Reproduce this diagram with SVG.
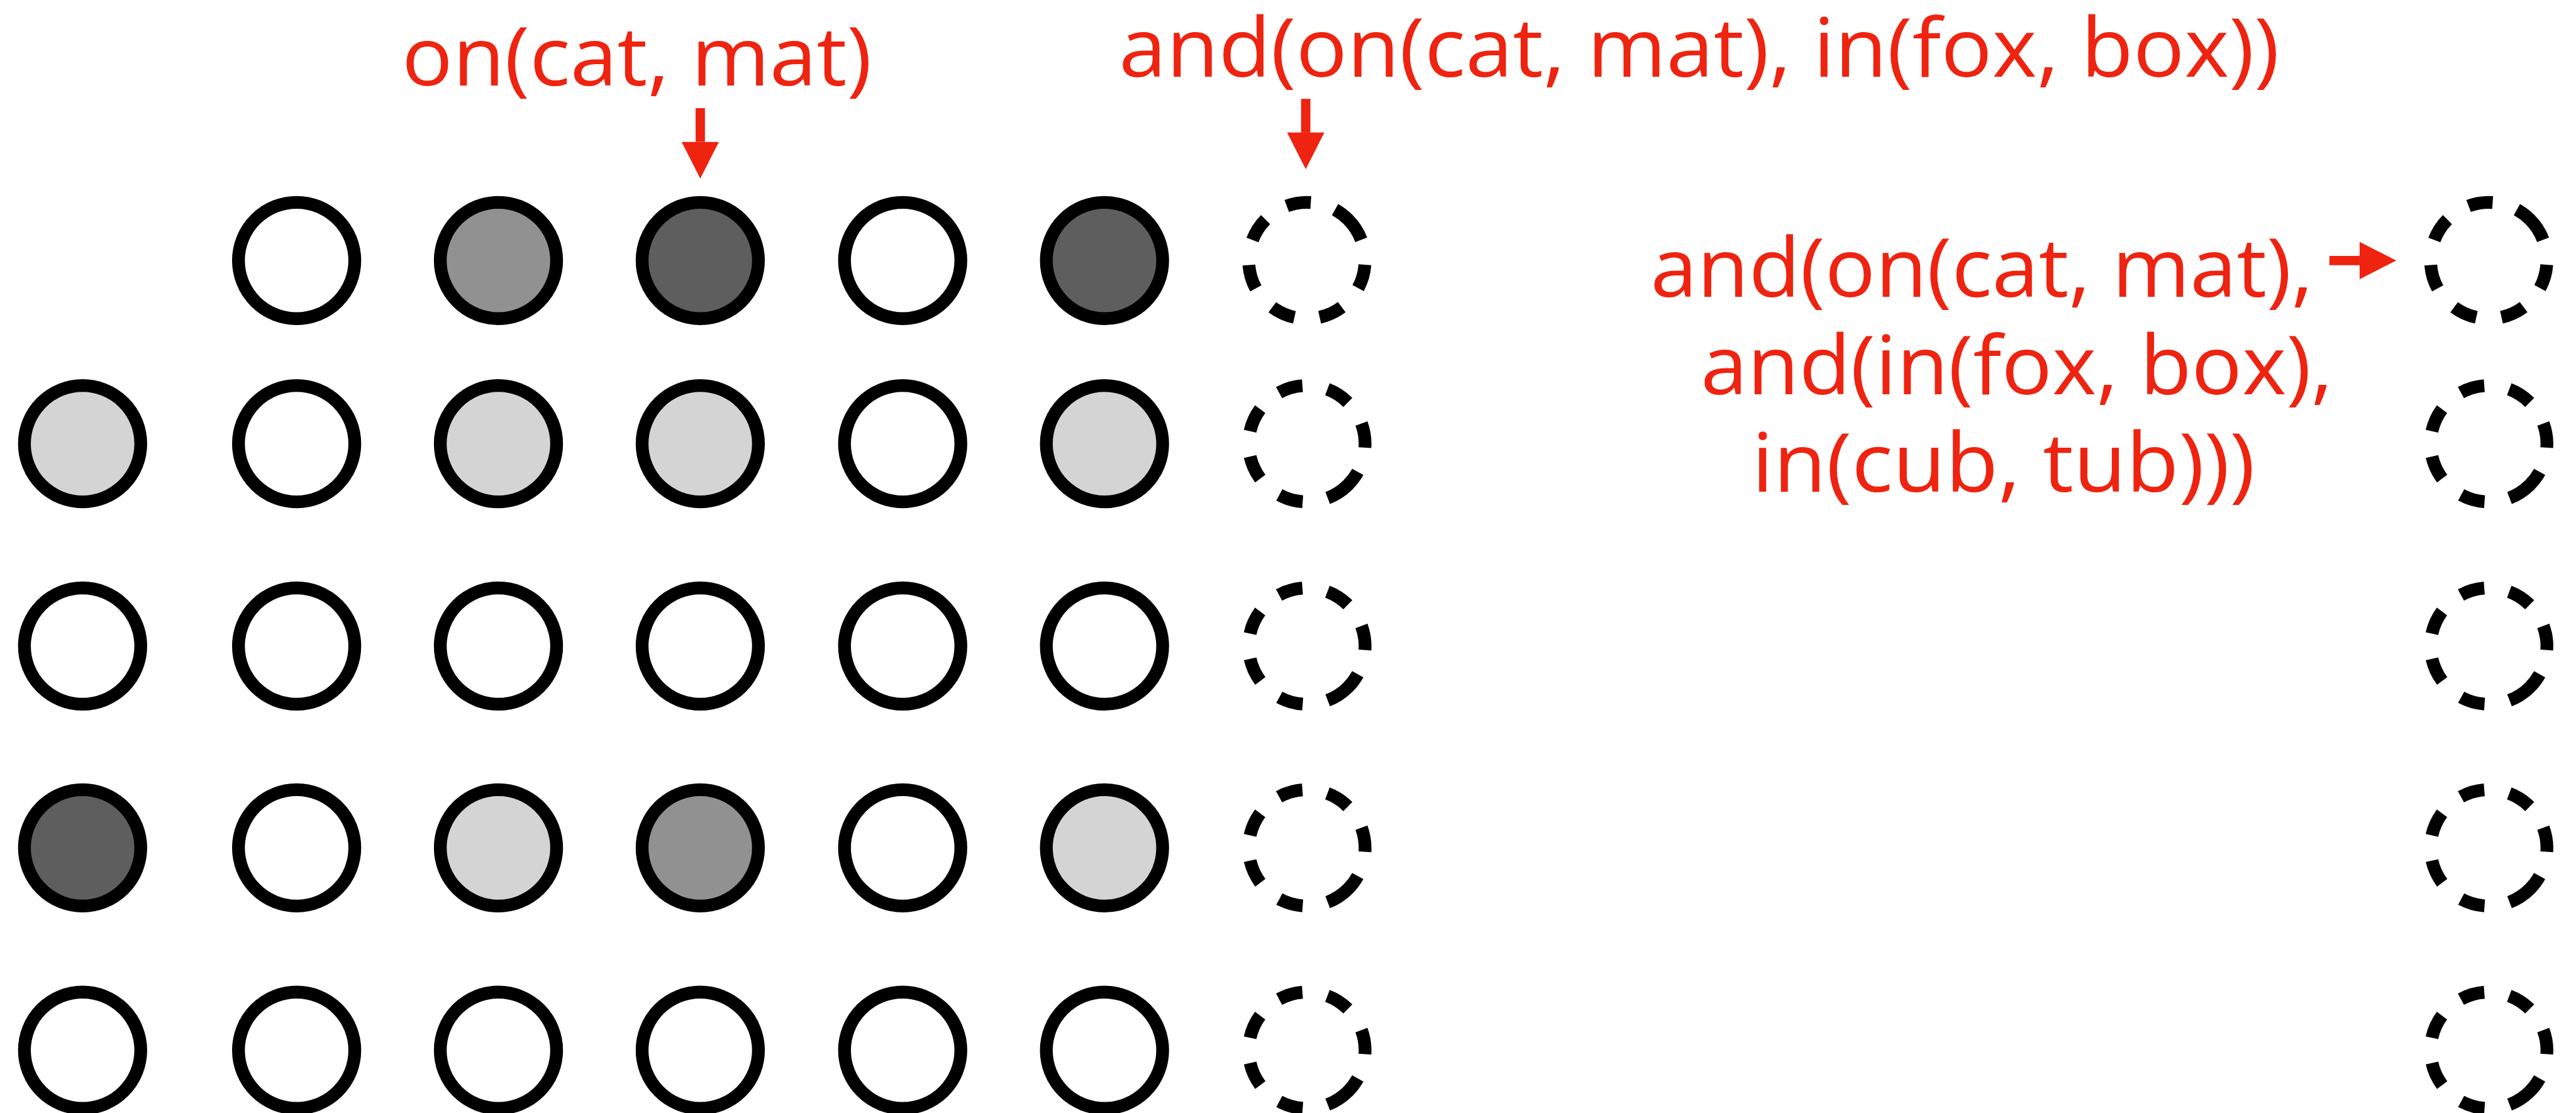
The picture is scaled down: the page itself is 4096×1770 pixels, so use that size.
<svg xmlns="http://www.w3.org/2000/svg" width="4096" height="1770" viewBox="0 0 4096 1770">
  <defs>
    <style>
      .unit { stroke: #000; stroke-width: 22; }
      .w { fill: #ffffff; }
      .l { fill: #d4d4d4; }
      .m { fill: #919191; }
      .d { fill: #5e5e5e; }
      .slot { fill: none; stroke: #000; stroke-width: 22; stroke-dasharray: 42 43.6; }
      .lbl { font-family: "Open Sans", "Noto Sans", "DejaVu Sans", sans-serif; font-size: 141px; fill: #ee2310; }
      .arrow { stroke: #ee2310; stroke-width: 16; fill: none; }
    </style>
    <marker id="head" markerUnits="userSpaceOnUse" markerWidth="63" markerHeight="64" refX="0" refY="32" orient="auto" overflow="visible">
      <path d="M0,0 L63,32 L0,64 Z" fill="#ee2310"/>
    </marker>
  </defs>
  <rect width="4096" height="1770" fill="#ffffff"/>
  <g transform="scale(0.92481)">
    <!-- row 1 -->
    <g id="n-r1c2"><circle class="unit w" cx="510" cy="448" r="100"/></g>
    <g id="n-r1c3"><circle class="unit m" cx="857" cy="448" r="100"/></g>
    <g id="n-r1c4"><circle class="unit d" cx="1204" cy="448" r="100"/></g>
    <g id="n-r1c5"><circle class="unit w" cx="1552" cy="448" r="100"/></g>
    <g id="n-r1c6"><circle class="unit d" cx="1899" cy="448" r="100"/></g>
    <g id="n-r1c7"><circle class="slot" cx="2247" cy="448" r="100" transform="rotate(-45 2247 448)"/></g>
    <g id="n-r1out"><circle class="slot" cx="4279" cy="448" r="100" transform="rotate(-45 4279 448)"/></g>
    <!-- row 2 -->
    <g id="n-r2c1"><circle class="unit l" cx="142" cy="763" r="100"/></g>
    <g id="n-r2c2"><circle class="unit w" cx="510" cy="763" r="100"/></g>
    <g id="n-r2c3"><circle class="unit l" cx="857" cy="763" r="100"/></g>
    <g id="n-r2c4"><circle class="unit l" cx="1204" cy="763" r="100"/></g>
    <g id="n-r2c5"><circle class="unit w" cx="1552" cy="763" r="100"/></g>
    <g id="n-r2c6"><circle class="unit l" cx="1899" cy="763" r="100"/></g>
    <g id="n-r2c7"><circle class="slot" cx="2247" cy="763" r="100" transform="rotate(45 2247 763)"/></g>
    <g id="n-r2out"><circle class="slot" cx="4279" cy="763" r="100" transform="rotate(45 4279 763)"/></g>
    <!-- row 3 -->
    <g id="n-r3c1"><circle class="unit w" cx="142" cy="1111" r="100"/></g>
    <g id="n-r3c2"><circle class="unit w" cx="510" cy="1111" r="100"/></g>
    <g id="n-r3c3"><circle class="unit w" cx="857" cy="1111" r="100"/></g>
    <g id="n-r3c4"><circle class="unit w" cx="1204" cy="1111" r="100"/></g>
    <g id="n-r3c5"><circle class="unit w" cx="1552" cy="1111" r="100"/></g>
    <g id="n-r3c6"><circle class="unit w" cx="1899" cy="1111" r="100"/></g>
    <g id="n-r3c7"><circle class="slot" cx="2247" cy="1111" r="100" transform="rotate(45 2247 1111)"/></g>
    <g id="n-r3out"><circle class="slot" cx="4279" cy="1111" r="100" transform="rotate(45 4279 1111)"/></g>
    <!-- row 4 -->
    <g id="n-r4c1"><circle class="unit d" cx="142" cy="1458" r="100"/></g>
    <g id="n-r4c2"><circle class="unit w" cx="510" cy="1458" r="100"/></g>
    <g id="n-r4c3"><circle class="unit l" cx="857" cy="1458" r="100"/></g>
    <g id="n-r4c4"><circle class="unit m" cx="1204" cy="1458" r="100"/></g>
    <g id="n-r4c5"><circle class="unit w" cx="1552" cy="1458" r="100"/></g>
    <g id="n-r4c6"><circle class="unit l" cx="1899" cy="1458" r="100"/></g>
    <g id="n-r4c7"><circle class="slot" cx="2247" cy="1458" r="100" transform="rotate(45 2247 1458)"/></g>
    <g id="n-r4out"><circle class="slot" cx="4279" cy="1458" r="100" transform="rotate(45 4279 1458)"/></g>
    <!-- row 5 -->
    <g id="n-r5c1"><circle class="unit w" cx="142" cy="1806" r="100"/></g>
    <g id="n-r5c2"><circle class="unit w" cx="510" cy="1806" r="100"/></g>
    <g id="n-r5c3"><circle class="unit w" cx="857" cy="1806" r="100"/></g>
    <g id="n-r5c4"><circle class="unit w" cx="1204" cy="1806" r="100"/></g>
    <g id="n-r5c5"><circle class="unit w" cx="1552" cy="1806" r="100"/></g>
    <g id="n-r5c6"><circle class="unit w" cx="1899" cy="1806" r="100"/></g>
    <g id="n-r5c7"><circle class="slot" cx="2247" cy="1806" r="100" transform="rotate(45 2247 1806)"/></g>
    <g id="n-r5out"><circle class="slot" cx="4279" cy="1806" r="100" transform="rotate(45 4279 1806)"/></g>

    <!-- labels -->
    <g id="label-on">
      <text class="lbl" x="691" y="147" textLength="808" lengthAdjust="spacingAndGlyphs">on(cat, mat)</text>
    </g>
    <g id="label-and">
      <text class="lbl" x="1924" y="132" textLength="1995" lengthAdjust="spacingAndGlyphs">and(on(cat, mat), in(fox, box))</text>
    </g>
    <g id="label-nested">
      <text class="lbl" x="2838" y="510" textLength="1139" lengthAdjust="spacingAndGlyphs">and(on(cat, mat),</text>
      <text class="lbl" x="2924" y="678" textLength="1087" lengthAdjust="spacingAndGlyphs">and(in(fox, box),</text>
      <text class="lbl" x="3012" y="846" textLength="865" lengthAdjust="spacingAndGlyphs">in(cub, tub)))</text>
    </g>

    <!-- connectors -->
    <g id="connectors">
      <line class="arrow" x1="1204" y1="186" x2="1204" y2="244" marker-end="url(#head)"/>
      <line class="arrow" x1="2245" y1="170" x2="2245" y2="228" marker-end="url(#head)"/>
      <line class="arrow" x1="4005" y1="448" x2="4057" y2="448" marker-end="url(#head)"/>
    </g>
  </g>
</svg>
